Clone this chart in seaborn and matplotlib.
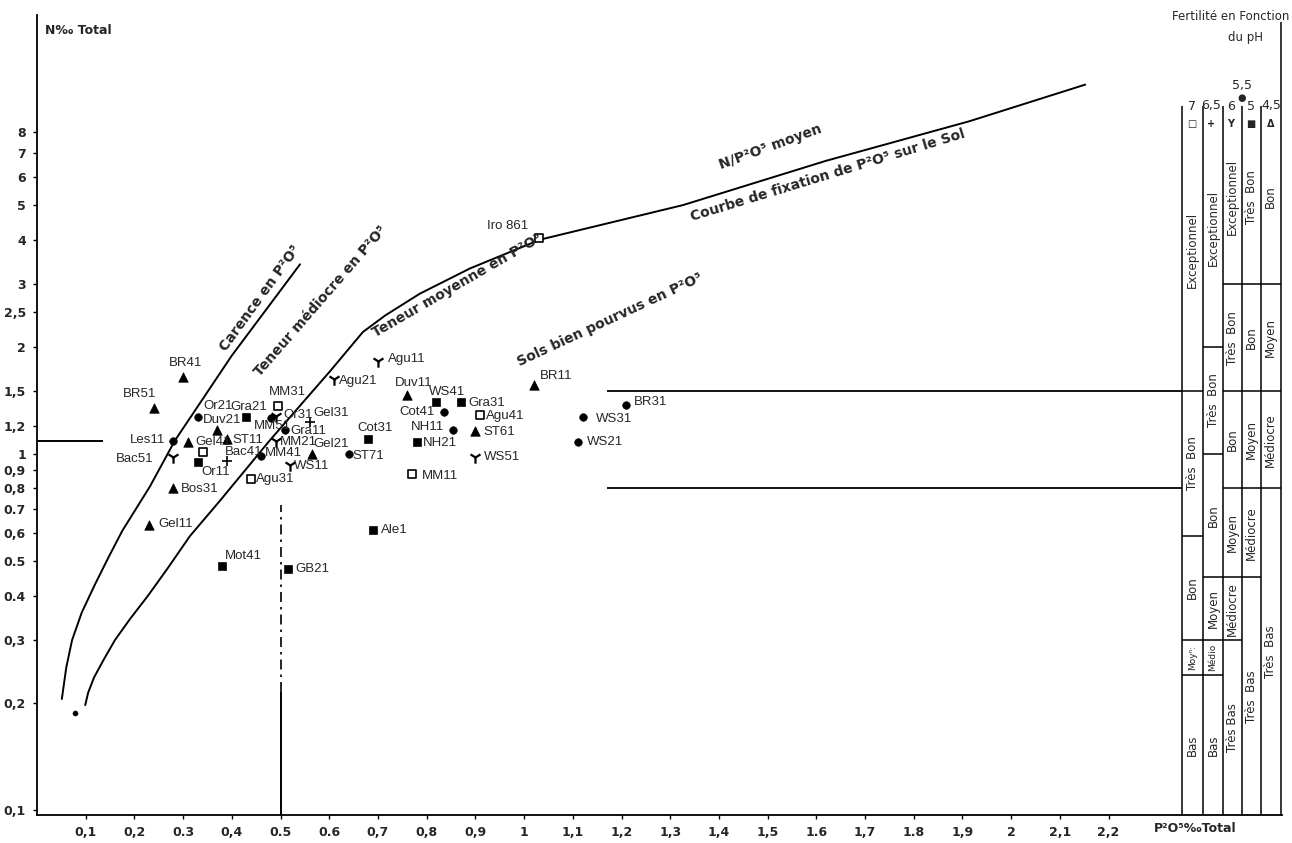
import matplotlib
matplotlib.use("Agg")
import matplotlib.pyplot as plt
from matplotlib import font_manager
import seaborn as sns
import numpy as np
import pandas as pd

# ---------------- data ----------------
sample_names = ["BR41", "BR51", "Or21", "Les11", "Gel41", "", "Bac51", "Or11", "Duv21", "ST11",
                "Gra21", "MM51", "Or31", "MM31", "Gra11", "Gel31", "MM21", "Bac41", "MM41", "Gel21",
                "ST71", "WS11", "Agu31", "Cot31", "Agu21", "Agu11", "Duv11", "WS41", "Gra31", "Cot41",
                "NH11", "NH21", "Agu41", "ST61", "WS51", "MM11", "BR11", "BR31", "WS31", "WS21",
                "Ale1", "Mot41", "GB21", "Bos31", "Gel11", "Iro 861"]
p2o5_total = [0.30, 0.24, 0.33, 0.28, 0.31, 0.34, 0.28, 0.33, 0.37, 0.39,
              0.43, 0.48, 0.49, 0.495, 0.51, 0.56, 0.49, 0.39, 0.46, 0.565,
              0.64, 0.52, 0.44, 0.68, 0.61, 0.70, 0.76, 0.82, 0.87, 0.835,
              0.855, 0.78, 0.91, 0.90, 0.90, 0.77, 1.02, 1.21, 1.12, 1.11,
              0.69, 0.38, 0.515, 0.28, 0.23, 1.03]
n_total = [1.65, 1.35, 1.27, 1.09, 1.08, 1.01, 0.98, 0.95, 1.17, 1.10,
           1.27, 1.26, 1.28, 1.36, 1.17, 1.23, 1.09, 0.955, 0.99, 1.00,
           1.00, 0.93, 0.85, 1.10, 1.62, 1.82, 1.46, 1.40, 1.40, 1.31,
           1.17, 1.08, 1.29, 1.16, 0.98, 0.88, 1.56, 1.37, 1.27, 1.08,
           0.61, 0.485, 0.475, 0.80, 0.63, 4.05]
soil_ph = [4.5, 4.5, 5.5, 5.5, 4.5, 7, 6, 5, 4.5, 4.5,
           5, 5.5, 6, 7, 5.5, 6.5, 6, 6.5, 5.5, 4.5,
           5.5, 6, 7, 5, 6, 6, 4.5, 5, 5, 5.5,
           5.5, 5, 7, 4.5, 6, 7, 4.5, 5.5, 5.5, 5.5,
           5, 5, 5, 4.5, 4.5, 7]

extra_point_p = [0.078]
extra_point_n = [0.187]

# curve "Carence en P2O5"
carence_p = [0.051, 0.060, 0.072, 0.092, 0.119, 0.146, 0.175, 0.232, 0.283, 0.400, 0.540]
carence_n = [0.205, 0.251, 0.300, 0.359, 0.430, 0.510, 0.608, 0.811, 1.09, 1.89, 3.41]

# curve "Teneur médiocre / moyenne" + courbe de fixation
fixation_p = [0.099, 0.105, 0.117, 0.136, 0.160, 0.191, 0.228, 0.269, 0.314, 0.376,
              0.478, 0.602, 0.669, 0.715, 0.786, 0.889, 1.033, 1.326, 1.620, 1.914, 2.152]
fixation_n = [0.197, 0.2135, 0.2355, 0.263, 0.300, 0.344, 0.400, 0.479, 0.588, 0.740,
              1.092, 1.71, 2.20, 2.45, 2.82, 3.32, 4.00, 5.00, 6.66, 8.6, 10.9]

y_ticks = [0.1, 0.2, 0.3, 0.4, 0.5, 0.6, 0.7, 0.8, 0.9, 1, 1.2, 1.5, 2, 2.5, 3, 4, 5, 6, 7, 8]
y_tick_labels = ["0,1", "0,2", "0,3", "0.4", "0.5", "0,6", "0.7", "0,8", "0,9", "1",
                 "1,2", "1,5", "2", "2,5", "3", "4", "5", "6", "7", "8"]
x_ticks = [0.1, 0.2, 0.3, 0.4, 0.5, 0.6, 0.7, 0.8, 0.9, 1.0, 1.1,
           1.2, 1.3, 1.4, 1.5, 1.6, 1.7, 1.8, 1.9, 2.0, 2.1, 2.2]
x_tick_labels = ["0,1", "0,2", "0.3", "0,4", "0.5", "0.6", "0,7", "0,8", "0,9", "1", "1,1",
                 "1,2", "1,3", "1,4", "1,5", "1.6", "1,7", "1.8", "1,9", "2", "2,1", "2,2"]

# fertility table (per pH column): labels and N limits from top to bottom
table_ph_labels = ["7", "6,5", "6", "5", "4,5"]
table_ph_symbols = ["□", "+", "Y", "■", "Δ"]
col_ph7_labels = ["Exceptionnel", "Très  Bon", "Bon", "Moyⁿ:", "Bas"]
col_ph7_limits = [9.3, 1.5, 0.59, 0.30, 0.24, 0.0968]
col_ph65_labels = ["Exceptionnel", "Très  Bon", "Bon", "Moyen", "Médio", "Bas"]
col_ph65_limits = [9.3, 2.0, 1.0, 0.45, 0.30, 0.24, 0.0968]
col_ph6_labels = ["Exceptionnel", "Très  Bon", "Bon", "Moyen", "Médiocre", "Très Bas"]
col_ph6_limits = [9.3, 3.0, 1.5, 0.8, 0.45, 0.30, 0.0968]
col_ph5_labels = ["Très  Bon", "Bon", "Moyen", "Médiocre", "Très  Bas"]
col_ph5_limits = [9.3, 3.0, 1.5, 0.8, 0.45, 0.0968]
col_ph45_labels = ["Bon", "Moyen", "Médiocre", "Très  Bas"]
col_ph45_limits = [9.3, 3.0, 1.5, 0.8, 0.0968]
table_col_edges = [2.351, 2.394, 2.435, 2.474, 2.513, 2.553]

# ---------------- styles ----------------
W, H = 1292, 843
sns.set_style("white")
plt.rcParams["font.family"] = ["DejaVu Sans"]
_avail = {f.name for f in font_manager.fontManager.ttflist}
label_font = "Liberation Sans Narrow" if "Liberation Sans Narrow" in _avail else "Liberation Sans"
label_size = 10.5 if label_font == "Liberation Sans Narrow" else 9.5

label_style = {
    "BR41": (2, -14, "center"), "BR51": (-14, -14, "center"), "Or21": (6, -11, "left"),
    "Les11": (-8, -1, "right"), "Gel41": (7, 0, "left"), "Bac51": (-20, 2, "right"),
    "Or11": (4, 10, "left"), "Duv21": (5, -10, "center"), "ST11": (5, 1, "left"),
    "Gra21": (2, -10, "center"), "MM51": (-17, 8, "left"), "Or31": (8, -1, "left"),
    "MM31": (9, -14, "center"), "Gra11": (5, 1, "left"), "Gel31": (4, -9, "left"),
    "MM21": (4, 1, "left"), "Bac41": (-2, -9, "left"), "MM41": (4, -3, "left"),
    "Gel21": (1, -10, "left"), "ST71": (4, 2, "left"), "WS11": (4, 1, "left"),
    "Agu31": (5, 0, "left"), "Cot31": (7, -11, "center"), "Agu21": (5, 2, "left"),
    "Agu11": (10, -2, "left"), "Duv11": (6, -12, "center"), "WS41": (11, -10, "center"),
    "Gra31": (8, 1, "left"), "Cot41": (-9, 0, "right"), "NH11": (-9, -3, "right"),
    "NH21": (6, 1, "left"), "Agu41": (6, 1, "left"), "ST61": (8, 1, "left"),
    "WS51": (9, 0, "left"), "MM11": (10, 2, "left"), "BR11": (6, -9, "left"),
    "BR31": (7, -3, "left"), "WS31": (13, 2, "left"), "WS21": (9, 0, "left"),
    "Ale1": (8, 0, "left"), "Mot41": (3, -10, "left"), "GB21": (8, 0, "left"),
    "Bos31": (7, 1, "left"), "Gel11": (9, -1, "left"), "Iro 861": (-10, -12, "right"),
}

marker_style = {
    7: dict(marker="s", s=36, color="white", edgecolor="black", linewidth=1.2),
    6.5: dict(marker="+", s=55, color="black", linewidth=1.2),
    6: dict(marker="1", s=80, color="black", linewidth=1.6),
    5.5: dict(marker="o", s=30, color="black", edgecolor="black"),
    5: dict(marker="s", s=36, color="black", edgecolor="black"),
    4.5: dict(marker="^", s=46, color="black", edgecolor="black"),
}

df = pd.DataFrame({"name": sample_names, "p": p2o5_total, "n": n_total, "ph": soil_ph})

fig = plt.figure(figsize=(W / 100, H / 100), dpi=100)
ax = fig.add_axes([37 / W, (H - 815) / H, (1282 - 37) / W, (815 - 15) / H])
ax.set_yscale("log")
ax.set_xlim(0, 2.556)
ax.set_ylim(0.0968, 17.1)

# curves
sns.lineplot(x=carence_p, y=carence_n, color="black", linewidth=1.4, sort=False,
             estimator=None, ax=ax)
sns.lineplot(x=fixation_p, y=fixation_n, color="black", linewidth=1.4, sort=False,
             estimator=None, ax=ax)

# reference lines
ax.hlines(1.09, 0, 0.136, color="black", lw=1.4)
ax.hlines([1.5, 0.8], 1.17, table_col_edges[0], color="black", lw=1.3)
ax.vlines(0.5, 0.215, 0.72, color="black", lw=1.2, linestyles=(0, (6, 3, 1.5, 3)))
ax.vlines(0.5, 0.0968, 0.215, color="black", lw=1.4)

# points
for ph, kw in marker_style.items():
    sub = df[df["ph"] == ph]
    sns.scatterplot(data=sub, x="p", y="n", ax=ax, legend=False, zorder=3, **kw)
sns.scatterplot(x=extra_point_p, y=extra_point_n, marker="o", s=14, color="black",
                edgecolor="black", ax=ax, legend=False)

for name, p, n in zip(sample_names, p2o5_total, n_total):
    if not name:
        continue
    dx, dy, ha = label_style[name]
    ax.annotate(name, (p, n), xytext=(dx, -dy), textcoords="offset pixels",
                ha=ha, va="center", fontsize=label_size, family=[label_font, "DejaVu Sans"])

# curve labels
curve_labels = [
    ("Carence en P²O⁵", 0.458, 2.73, 54),
    ("Teneur médiocre en P²O⁵", 0.583, 2.68, 49),
    ("Teneur moyenne en P²O⁵", 0.862, 2.98, 30),
    ("Sols bien pourvus en P²O⁵", 1.177, 2.38, 25),
    ("N/P²O⁵ moyen", 1.505, 7.3, 20),
    ("Courbe de fixation de P²O⁵ sur le Sol", 1.624, 6.08, 17),
]
for txt, x, y, rot in curve_labels:
    ax.text(x, y, txt, rotation=rot, rotation_mode="anchor", ha="center", va="center",
            fontsize=10, fontweight="bold")

# fertility table
columns = [(col_ph7_labels, col_ph7_limits), (col_ph65_labels, col_ph65_limits),
           (col_ph6_labels, col_ph6_limits), (col_ph5_labels, col_ph5_limits),
           (col_ph45_labels, col_ph45_limits)]
ax.vlines(table_col_edges[:-1], 0.0968, 9.5, color="black", lw=1.1, clip_on=False)
ax.vlines(table_col_edges[-1], 0.0968, 16.3, color="black", lw=1.1, clip_on=False)
for i, (labels, lims) in enumerate(columns):
    x0, x1 = table_col_edges[i], table_col_edges[i + 1]
    xc = (x0 + x1) / 2
    ax.hlines(lims[1:-1], x0, x1, color="black", lw=1.1)
    for lab, hi, lo in zip(labels, lims[:-1], lims[1:]):
        yc = np.sqrt(hi * lo)
        small = lab in ("Moyⁿ:", "Médio")
        ax.text(xc, yc, lab, rotation=90, ha="center", va="center",
                fontsize=6.5 if small else 8.5)

# table header
def fx(px):
    return px / W

def fy(py):
    return 1 - py / H

header_x = [1192, 1211, 1231, 1251, 1271]
for x, lab, sym in zip(header_x, table_ph_labels, table_ph_symbols):
    fig.text(fx(x), fy(106), lab, ha="center", va="center", fontsize=9)
    fig.text(fx(x), fy(124), sym, ha="center", va="center", fontsize=7, fontweight="bold")
fig.text(fx(1242), fy(86), "5,5", ha="center", va="center", fontsize=9)
fig.text(fx(1242), fy(98), "●", ha="center", va="center", fontsize=7)
fig.text(fx(1289), fy(17), "Fertilité en Fonction", ha="right", va="center", fontsize=8.5)
fig.text(fx(1245), fy(38), "du pH", ha="center", va="center", fontsize=8.5)

# axes labels
fig.text(fx(45), fy(30), "N‰ Total", ha="left", va="center", fontsize=9, fontweight="bold")
fig.text(fx(1195), fy(829), "P²O⁵‰Total", ha="center", va="center", fontsize=9,
         fontweight="bold")

# ticks and spines
ax.yaxis.set_major_locator(matplotlib.ticker.FixedLocator(y_ticks))
ax.yaxis.set_minor_locator(matplotlib.ticker.NullLocator())
ax.set_yticklabels(y_tick_labels, fontsize=9, fontweight="bold")
ax.set_xticks(x_ticks)
ax.set_xticklabels(x_tick_labels, fontsize=9, fontweight="bold")
ax.tick_params(axis="both", which="major", length=3, width=1, direction="out",
               pad=5, color="black", bottom=True, left=True)
ax.set_xlabel("")
ax.set_ylabel("")
for side in ("top", "right"):
    ax.spines[side].set_visible(False)
for side in ("left", "bottom"):
    ax.spines[side].set_color("black")
    ax.spines[side].set_linewidth(1.3)

fig.savefig("out.png", dpi=100)
